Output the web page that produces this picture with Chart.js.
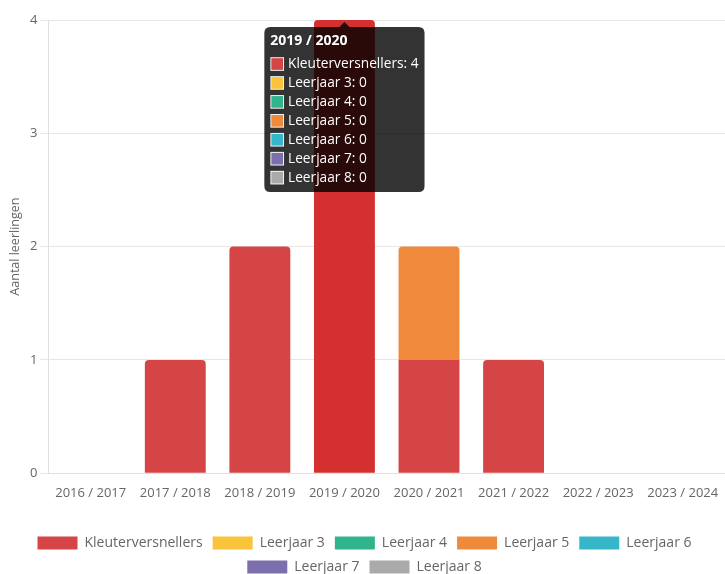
<!DOCTYPE html>
<html>
<head>
<meta charset="utf-8">
<script src="https://cdn.jsdelivr.net/npm/chart.js@4"></script>
<style>
  html, body { margin: 0; padding: 0; background: #fff; overflow: hidden; }
  #wrap { width: 725px; height: 584px; }
</style>
</head>
<body>
<div id="wrap"><canvas id="leerlingen-chart"></canvas></div>
<script>
// data
const schooljaren = ['2016 / 2017', '2017 / 2018', '2018 / 2019', '2019 / 2020', '2020 / 2021', '2021 / 2022', '2022 / 2023', '2023 / 2024'];
const groepen = ['Kleuterversnellers', 'Leerjaar 3', 'Leerjaar 4', 'Leerjaar 5', 'Leerjaar 6', 'Leerjaar 7', 'Leerjaar 8'];
const kleuterversnellers = [0, 1, 2, 4, 1, 1, 0, 0];
const leerjaar3 = [0, 0, 0, 0, 0, 0, 0, 0];
const leerjaar4 = [0, 0, 0, 0, 0, 0, 0, 0];
const leerjaar5 = [0, 0, 0, 0, 1, 0, 0, 0];
const leerjaar6 = [0, 0, 0, 0, 0, 0, 0, 0];
const leerjaar7 = [0, 0, 0, 0, 0, 0, 0, 0];
const leerjaar8 = [0, 0, 0, 0, 0, 0, 0, 0];
const yTicks = [0, 1, 2, 3, 4];

const reeksen = [kleuterversnellers, leerjaar3, leerjaar4, leerjaar5, leerjaar6, leerjaar7, leerjaar8];
const kleuren = ['#d64545', '#f9c33a', '#2fb48d', '#ef8a3c', '#35b6c9', '#7d6fae', '#aaaaaa'];
const hoverKleuren = ['#d3302f', '#f5b80f', '#22a07b', '#ea7a24', '#26a5b8', '#6c5ea0', '#999999'];

Chart.defaults.font.family = '"Open Sans", Lato, sans-serif';
Chart.defaults.font.size = 13;
Chart.defaults.color = '#666';

// only round the top segment of each stack
function bovenRadius(ctx) {
  const i = ctx.datasetIndex, j = ctx.dataIndex;
  if (!reeksen[i] || !reeksen[i][j]) return 0;
  for (let k = i + 1; k < reeksen.length; k++) {
    if (reeksen[k][j]) return 0;
  }
  return 4;
}

const chart = new Chart(document.getElementById('leerlingen-chart'), {
  type: 'bar',
  data: {
    labels: schooljaren,
    datasets: groepen.map((g, i) => ({
      label: g,
      data: reeksen[i],
      backgroundColor: kleuren[i],
      hoverBackgroundColor: hoverKleuren[i],
      borderRadius: bovenRadius,
      borderSkipped: 'start'
    }))
  },
  options: {
    responsive: true,
    maintainAspectRatio: false,
    animation: false,
    layout: { padding: { top: 20, right: 0, left: 4, bottom: 0 } },
    interaction: { mode: 'index', intersect: false },
    scales: {
      x: {
        stacked: true,
        grid: { display: false },
        border: { color: '#e0e0e0' },
        ticks: { padding: 4, font: { size: 13 } }
      },
      y: {
        stacked: true,
        min: 0,
        max: 4,
        afterBuildTicks: axis => { axis.ticks = yTicks.map(v => ({ value: v })); },
        grid: { color: '#e6e6e6', tickLength: 8 },
        border: { color: '#e0e0e0' },
        ticks: { font: { size: 13 } },
        title: { display: true, text: 'Aantal leerlingen', font: { size: 12.5 } }
      }
    },
    plugins: {
      legend: {
        position: 'bottom',
        title: { display: true, text: '', font: { size: 1 }, padding: { top: 0, bottom: 20 } },
        labels: { boxWidth: 40, boxHeight: 13, padding: 10, font: { size: 14 } }
      },
      tooltip: {
        backgroundColor: 'rgba(0,0,0,0.8)',
        titleFont: { size: 14, weight: 'bold' },
        bodyFont: { size: 13.7 },
        bodySpacing: 2.5,
        padding: 6,
        boxPadding: 2
      }
    }
  }
});

// tooltip open on 2019 / 2020 like in the screenshot
const actief = groepen.map((g, i) => ({ datasetIndex: i, index: 3 }));
chart.setActiveElements(actief);
chart.tooltip.setActiveElements(actief, { x: 346, y: 20 });
chart.update();
</script>
</body>
</html>
